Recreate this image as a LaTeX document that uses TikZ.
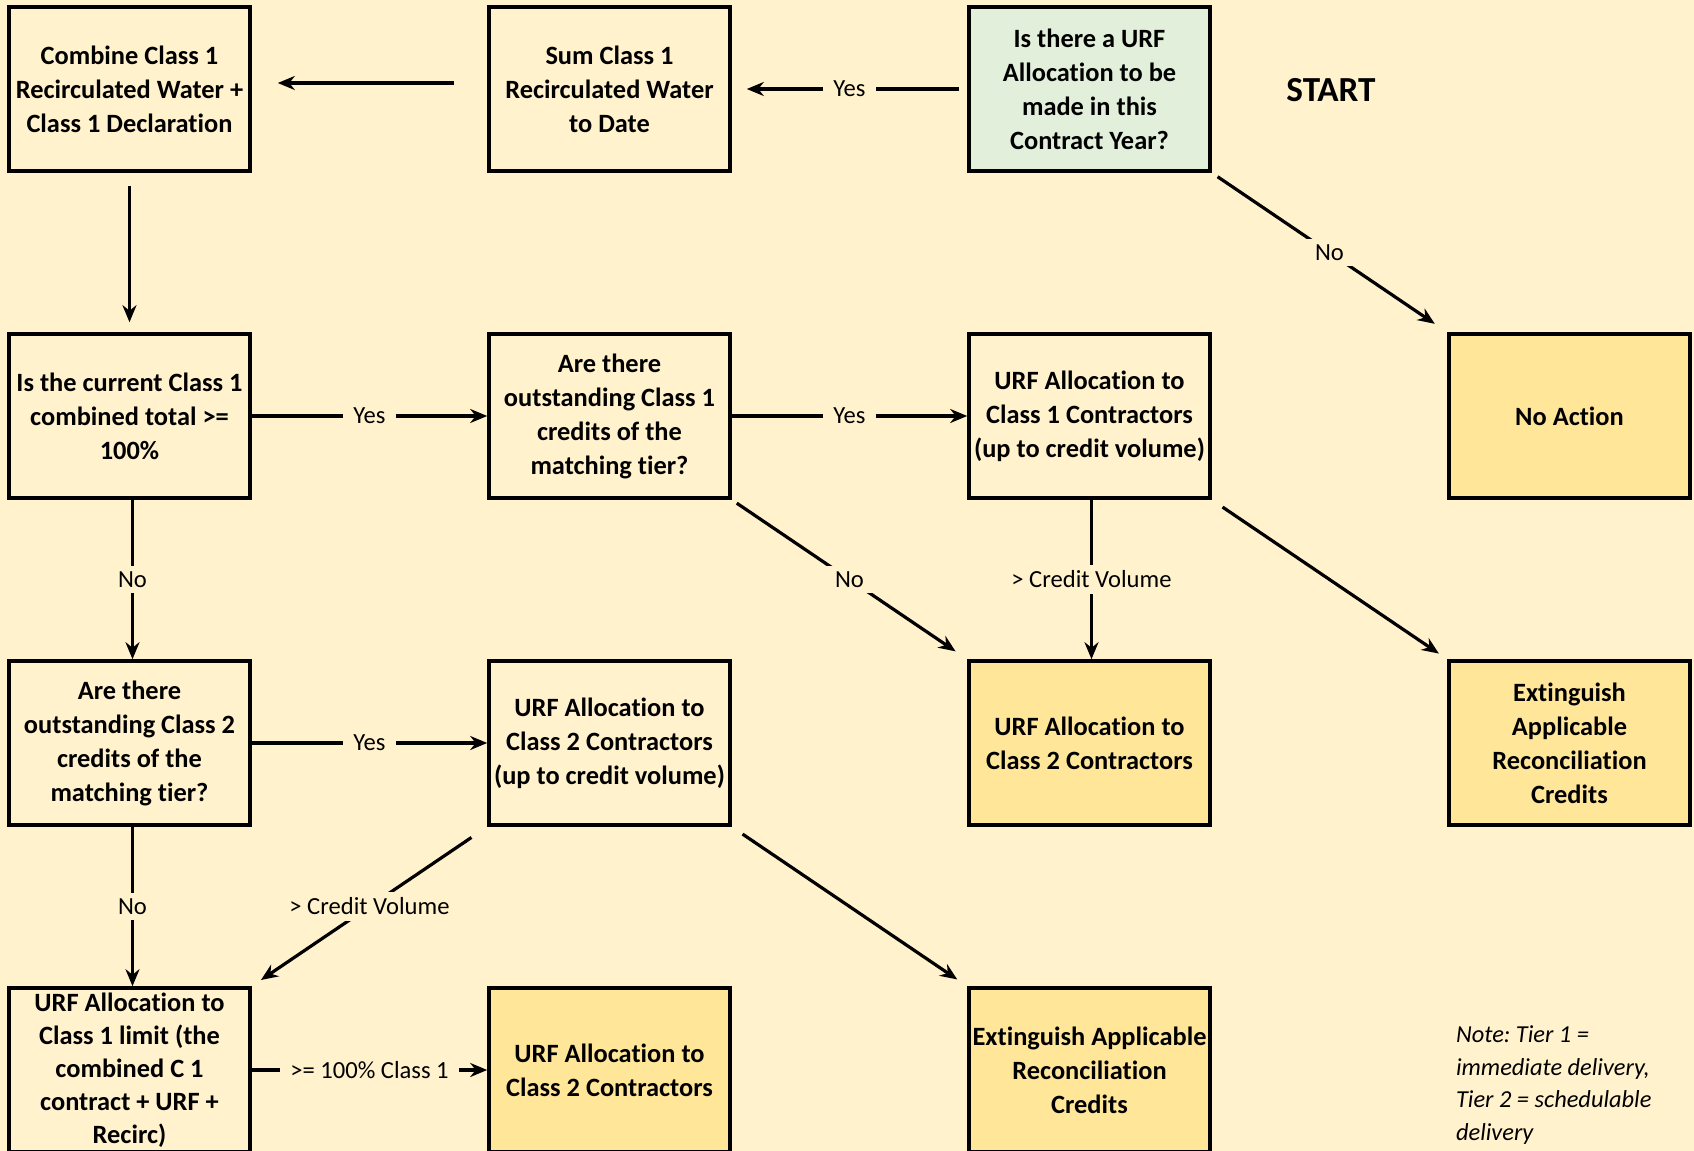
\documentclass[tikz,border=0pt]{standalone}
\usepackage{fontspec}
\setmainfont{Carlito}[Ligatures=NoCommon]
\usetikzlibrary{arrows.meta}
\definecolor{bgcol}{HTML}{FFF2CC}
\definecolor{endcol}{HTML}{FFE699}
\definecolor{startcol}{HTML}{E2EFDA}
\tikzset{
  box/.style={draw, line width=1.8pt, fill=bgcol, minimum width=120.5pt, minimum height=82pt,
    align=center, inner sep=1pt, font=\bfseries\fontsize{13.2}{17}\selectfont},
  endbox/.style={box, fill=endcol},
  startbox/.style={box, fill=startcol},
  flow/.style={line width=1.6pt, -{Stealth[length=8.5pt,width=7pt]}},
  lbl/.style={fill=bgcol, inner xsep=5pt, inner ysep=3pt, font=\fontsize{12.3}{14}\selectfont}
}
\frenchspacing
\begin{document}
\begin{tikzpicture}[x=0.5pt,y=-0.5pt]
\fill[bgcol] (0,0) rectangle (1694,1151);
\useasboundingbox (0,0) rectangle (1694,1151);
% row 1
\node[box] (comb) at (129.5,89) {Combine Class 1\\Recirculated Water +\\Class 1 Declaration};
\node[box] (sum) at (609.5,89) {Sum Class 1\\Recirculated Water\\to Date};
\node[startbox] (urf) at (1089.5,89) {Is there a URF\\Allocation to be\\made in this\\Contract Year?};
\node[font=\bfseries\fontsize{17.6}{20}\selectfont] (start) at (1331,90) {START};
% row 2
\node[box] (q1) at (129.5,416) {Is the current Class 1\\combined total >=\\100\%};
\node[box] (q2) at (609.5,416) {Are there\\outstanding Class 1\\credits of the\\matching tier?};
\node[box] (c1) at (1089.5,416) {URF Allocation to\\Class 1 Contractors\\(up to credit volume)};
\node[endbox] (noact) at (1569.5,416) {No Action};
% row 3
\node[box] (q3) at (129.5,743) {Are there\\outstanding Class 2\\credits of the\\matching tier?};
\node[box] (c2b) at (609.5,743) {URF Allocation to\\Class 2 Contractors\\(up to credit volume)};
\node[endbox] (c2a) at (1089.5,743) {URF Allocation to\\Class 2 Contractors};
\node[endbox] (ext1) at (1569.5,743) {Extinguish\\Applicable\\Reconciliation\\Credits};
% row 4
\node[box, inner ysep=0pt, font=\bfseries\fontsize{13.2}{16.5}\selectfont] (lim) at (129.5,1070) {URF Allocation to\\Class 1 limit (the\\combined C 1\\contract + URF +\\Recirc)};
\node[endbox] (c2c) at (609.5,1070) {URF Allocation to\\Class 2 Contractors};
\node[endbox] (ext2) at (1089.5,1070) {Extinguish Applicable\\Reconciliation\\Credits};
\node[anchor=west, align=left, font=\itshape\fontsize{12.2}{16.25}\selectfont] (note) at (1449,1085) {Note: Tier 1 =\\immediate delivery,\\Tier 2 = schedulable\\delivery};
% arrows
\draw[flow, shorten <=4pt, shorten >=7.5pt] (urf.west) -- node[lbl]{Yes} (sum.east);
\draw[flow, shorten <=16.5pt, shorten >=13pt] ([yshift=3pt]sum.west) -- ([yshift=3pt]comb.east);
\draw[flow, shorten <=6.5pt, shorten >=5pt] (comb.south) -- (q1.north);
\draw[flow, shorten <=3.5pt, shorten >=7.5pt] (urf.south east) -- node[lbl]{No} (noact.north west);
\draw[flow] (q1.east) -- node[lbl]{Yes} (q2.west);
\draw[flow] (q2.east) -- node[lbl]{Yes} (c1.west);
\draw[flow] ([xshift=1.5pt]q1.south) -- node[lbl]{No} ([xshift=1.5pt]q3.north);
\draw[flow, shorten <=3pt, shorten >=7pt] (q2.south east) -- node[lbl]{No} (c2a.north west);
\draw[flow] ([xshift=1pt]c1.south) -- node[lbl]{> Credit Volume} ([xshift=1pt]c2a.north);
\draw[flow, shorten <=6.5pt, shorten >=5pt] (c1.south east) -- (ext1.north west);
\draw[flow] (q3.east) -- node[lbl]{Yes} (c2b.west);
\draw[flow] ([xshift=1.5pt]q3.south) -- node[lbl]{No} ([xshift=1.5pt]lim.north);
\draw[flow, shorten <=9.5pt, shorten >=5.5pt] (c2b.south west) -- node[lbl]{> Credit Volume} (lim.north east);
\draw[flow, shorten <=6.5pt, shorten >=6pt] (c2b.south east) -- (ext2.north west);
\draw[flow] (lim.east) -- node[lbl]{>= 100\% Class 1} (c2c.west);
\end{tikzpicture}
\end{document}
